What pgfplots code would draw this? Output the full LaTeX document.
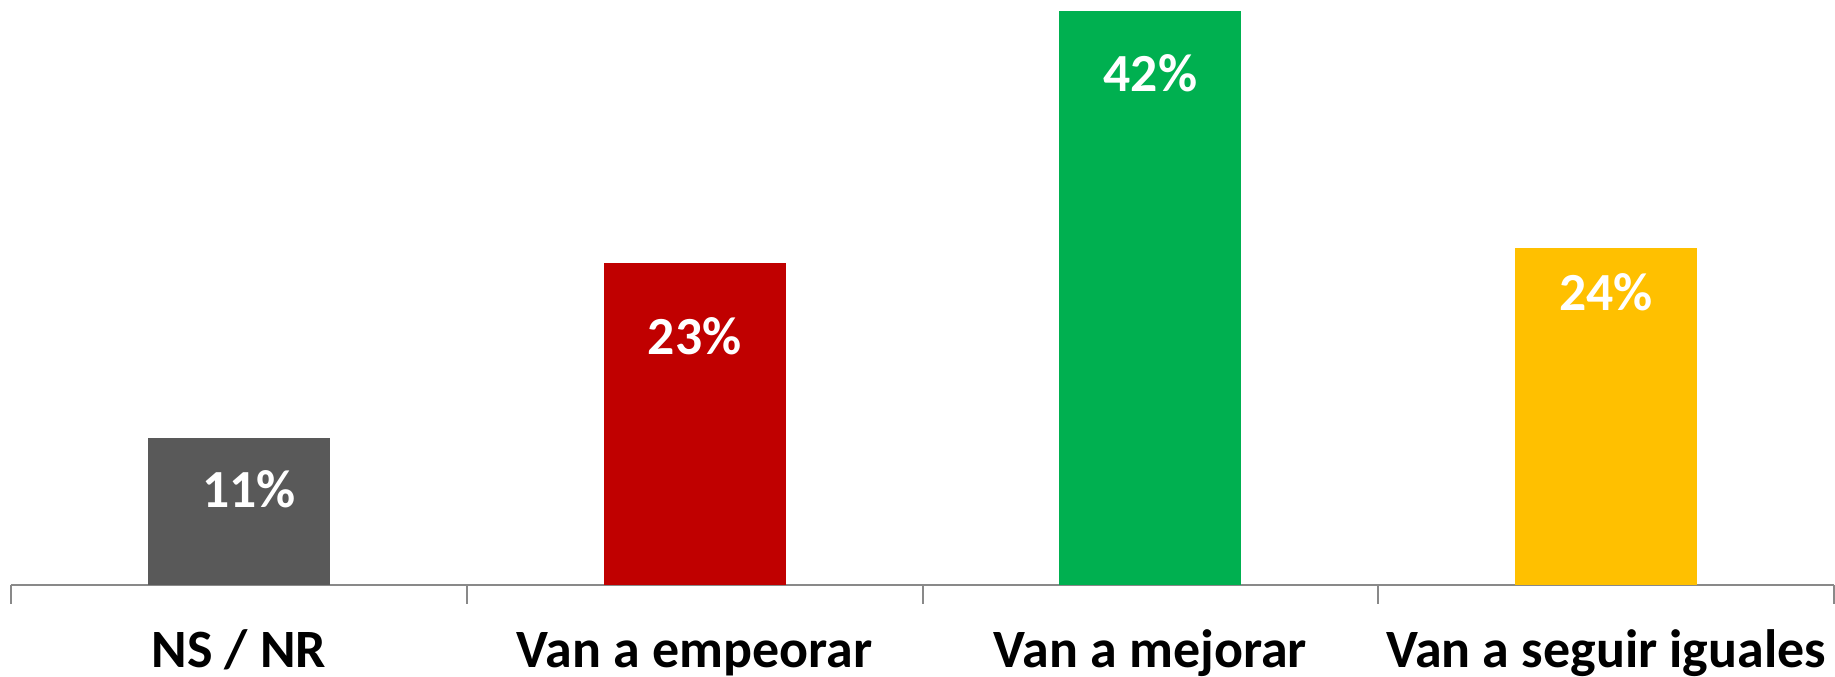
\documentclass[border=0pt]{standalone}
\usepackage{pgfplots}
\pgfplotsset{compat=1.18}
\usepackage{fontspec}
\setmainfont{Carlito}
\definecolor{cgray}{HTML}{595959}
\definecolor{cred}{HTML}{C00000}
\definecolor{cgreen}{HTML}{00B050}
\definecolor{cyellow}{HTML}{FFC000}
\definecolor{axisgray}{HTML}{898989}
\begin{document}
\begin{tikzpicture}
\begin{axis}[
  scale only axis, width=547.2pt, height=175.5pt,
  xmin=-0.5, xmax=3.5, ymin=0, ymax=42.77,
  enlargelimits=false, clip=false,
  hide y axis,
  axis x line*=bottom,
  x axis line style={draw=axisgray, line width=0.6pt, -},
  ybar, bar width=54.6pt, bar shift=0pt,
  xtick={0,1,2,3},
  xticklabels={NS / NR, Van a empeorar, Van a mejorar, Van a seguir iguales},
  major tick length=0pt,
  minor xtick={-0.5,0.5,1.5,2.5,3.5},
  minor tick length=5.7pt, tick align=outside,
  minor tick style={draw=axisgray, line width=0.6pt},
  xticklabel style={font=\fontsize{16.2}{18}\selectfont\bfseries, anchor=base, inner sep=0pt, yshift=-24.9pt},
  point meta=explicit symbolic,
  nodes near coords={\pgfplotspointmeta\%},
  every node near coord/.append style={font=\fontsize{16.1}{18}\selectfont\bfseries, text=white, anchor=center},
]
\addplot[fill=cgray, draw=none, nodes near coords style={yshift=-15.3pt, xshift=3pt}] coordinates {(0,10.7) [11]};
\addplot[fill=cred, draw=none, nodes near coords style={yshift=-21.9pt}] coordinates {(1,23.5) [23]};
\addplot[fill=cgreen, draw=none, nodes near coords style={yshift=-18.75pt}] coordinates {(2,42.0) [42]};
\addplot[fill=cyellow, draw=none, nodes near coords style={yshift=-13.2pt}] coordinates {(3,24.6) [24]};
\end{axis}
\path ([xshift=-3.3pt]current axis.north west) rectangle ([yshift=-27.3pt]current axis.south east);
\end{tikzpicture}
\end{document}
